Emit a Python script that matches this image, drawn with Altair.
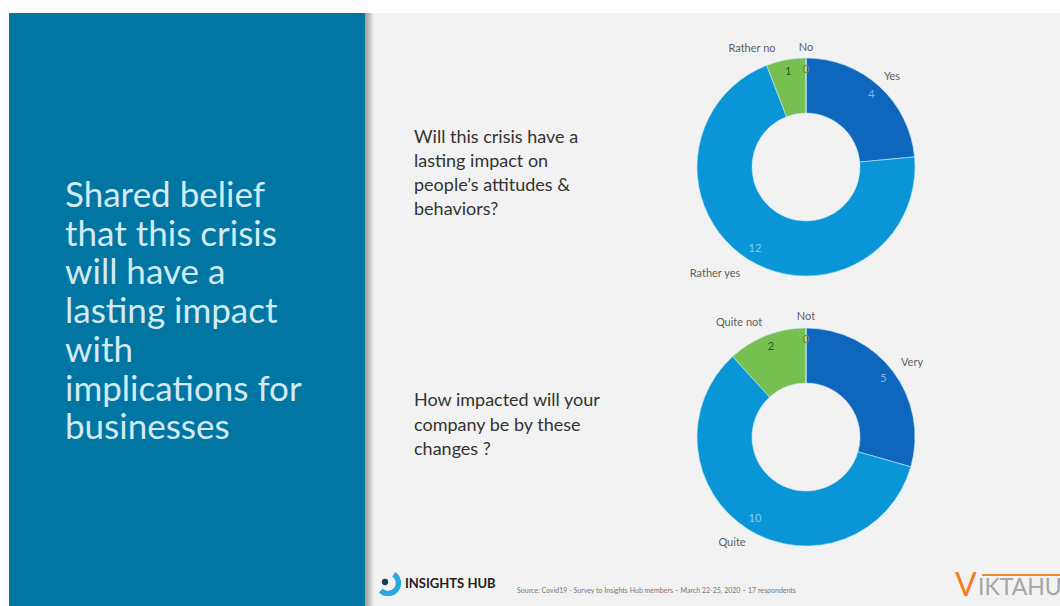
import altair as alt
import pandas as pd

W, H = 1060, 606
FONT = "Lato"

# Survey answers
q1_labels = ["Yes", "Rather yes", "Rather no", "No"]
q1_values = [4, 12, 1, 0]
q2_labels = ["Very", "Quite", "Quite not", "Not"]
q2_values = [5, 10, 2, 0]

# Slide copy
headline = ["Shared belief", "that this crisis", "will have a", "lasting impact", "with",
            "implications for", "businesses"]
q1_text = ["Will this crisis have a", "lasting impact on", "people’s attitudes &", "behaviors?"]
q2_text = ["How impacted will your", "company be by these", "changes ?"]
source = "Source: Covid19 - Survey to Insights Hub members – March 22-25, 2020 – 17 respondents"

slice_fill = ["#0f67bd", "#0a96d6", "#78bf52", "#78bf52"]
value_ink = ["#7fb6ea", "#7fd0f0", "#1f5a1f", "#8a8a00"]

one = pd.DataFrame({"k": [0]})


def box(x0, x1, y0, y1, color):
    return alt.Chart(one).mark_rect(color=color).encode(
        x=alt.value(x0), x2=alt.value(x1), y=alt.value(y0), y2=alt.value(y1))


def label(text, x, y, size=11, color="#5f5f5f", align="center", weight="normal"):
    return alt.Chart(pd.DataFrame({"t": [text]})).mark_text(
        font=FONT, fontSize=size, color=color, align=align, baseline="middle", fontWeight=weight
    ).encode(text="t:N", x=alt.value(x), y=alt.value(y))


def donut(labels, values, cx, cy):
    df = pd.DataFrame({
        "answer": labels, "count": values, "idx": range(len(labels)),
        "fill": slice_fill, "ink": value_ink,
    })
    theta = alt.Theta("count:Q", stack=True, scale=alt.Scale(domain=[0, 17]))
    base = alt.Chart(df).encode(theta=theta, order=alt.Order("idx:Q"),
                                x=alt.value(cx), y=alt.value(cy))
    ring = base.mark_arc(innerRadius=54, outerRadius=109, stroke="#bfeaf8", strokeWidth=0.6).encode(
        color=alt.Color("fill:N", scale=None))
    nums = base.mark_text(radius=97, font=FONT, fontSize=11).encode(
        text="count:Q", color=alt.Color("ink:N", scale=None))
    return ring + nums


panel_shadow = alt.Chart(one).mark_rect(
    color=alt.Gradient(gradient="linear", x1=0, x2=1, y1=0, y2=0,
                       stops=[alt.GradientStop(offset=0, color="#9a9a96"),
                              alt.GradientStop(offset=1, color="#f2f2f2")])
).encode(x=alt.value(365), x2=alt.value(374), y=alt.value(13), y2=alt.value(H))

layers = [
    box(9, W, 13, H, "#f2f2f2"),
    panel_shadow,
    box(9, 365, 13, H, "#0176a3"),
]
layers += [label(t, 65, 196 + i * 38.7, size=35, color="#d3eaf4", align="left")
           for i, t in enumerate(headline)]
layers += [label(t, 414, 138 + i * 24, size=18, color="#333333", align="left")
           for i, t in enumerate(q1_text)]
layers += [label(t, 414, 401 + i * 24.7, size=18, color="#333333", align="left")
           for i, t in enumerate(q2_text)]

layers += [donut(q1_labels, q1_values, 806, 167), donut(q2_labels, q2_values, 806, 437)]

layers += [
    label(q1_labels[0], 892, 77),
    label(q1_labels[1], 715, 274),
    label(q1_labels[2], 752, 49),
    label(q1_labels[3], 806, 48),
    label(q2_labels[0], 912, 363),
    label(q2_labels[1], 732, 543),
    label(q2_labels[2], 739, 323),
    label(q2_labels[3], 806, 317),
]

# Footer: publisher marks and source line
hub_ring = alt.Chart(pd.DataFrame({"s": [1, 1]})).mark_arc(
    innerRadius=8, outerRadius=13, theta=0.6, theta2=3.9, color="#29a9df"
).encode(x=alt.value(388), y=alt.value(583))
hub_dot = alt.Chart(one).mark_point(filled=True, size=40, color="#1d3b57", opacity=1).encode(
    x=alt.value(385), y=alt.value(582))
layers += [
    hub_ring,
    hub_dot,
    label("INSIGHTS HUB", 405, 584, size=13, color="#222222", align="left", weight="bold"),
    label(source, 517, 591, size=7, color="#777777", align="left"),
    label("V", 955, 586, size=32, color="#ef7d22", align="left"),
    label("IKTAHU", 978, 588, size=23, color="#a5a5a5", align="left"),
    box(982, W, 574, 576, "#ef8a2e"),
]

chart = alt.layer(*layers).properties(
    width=W, height=H, background="white", padding=0,
    autosize=alt.AutoSizeParams(type="none"),
).configure_view(stroke=None)

chart.save("out.html", embed_options={"renderer": "svg", "actions": False})
